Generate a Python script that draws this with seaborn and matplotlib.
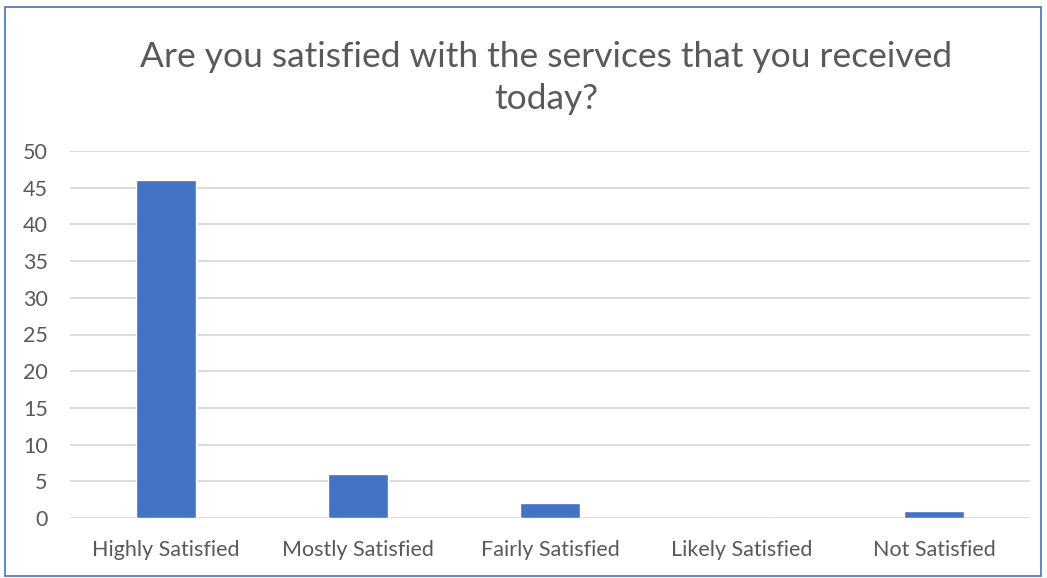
import matplotlib
matplotlib.use("Agg")
import matplotlib.pyplot as plt
import seaborn as sns
from matplotlib.patches import Rectangle

categories = ["Highly Satisfied", "Mostly Satisfied", "Fairly Satisfied", "Likely Satisfied", "Not Satisfied"]
values = [46, 6, 2, 0, 1]
yticks = [0, 5, 10, 15, 20, 25, 30, 35, 40, 45, 50]
title = "Are you satisfied with the services that you received\ntoday?"

sns.set_theme(style="white")
plt.rcParams['font.family'] = ['Lato', 'DejaVu Sans']

W, H = 1047, 578
fig = plt.figure(figsize=(W/100, H/100), dpi=100)
ax = fig.add_axes([70/W, 1-518/H, (1030-70)/W, (518-151)/H])

sns.barplot(x=categories, y=values, ax=ax, color="#4472C4", width=0.31, saturation=1, zorder=3)

ax.set_ylim(0, 50)
ax.set_xlim(-0.5, 4.5)
ax.set_yticks(yticks)
ax.set_yticklabels([str(t) for t in yticks])
ax.grid(axis='y', color="#D9D9D9", linewidth=1.3, zorder=0)
ax.grid(axis='x', visible=False)
for s in ax.spines.values():
    s.set_visible(False)
ax.tick_params(axis='both', length=0, labelsize=15.5, labelcolor="#595959")
ax.tick_params(axis='y', pad=16)
ax.tick_params(axis='x', pad=16)
for lbl in ax.get_yticklabels():
    lbl.set_horizontalalignment('right')
ax.set_xlabel("")
ax.set_ylabel("")

fig.text(546/W, 1-78/H, title, ha='center', va='center', fontsize=25.5, color="#595959", linespacing=1.42)

fig.patches.append(Rectangle((5/W, 1-576/H), (1041-5)/W, (576-7)/H, transform=fig.transFigure,
                             fill=False, edgecolor="#4472C4", linewidth=1.2))

fig.savefig("out.png", dpi=100)
